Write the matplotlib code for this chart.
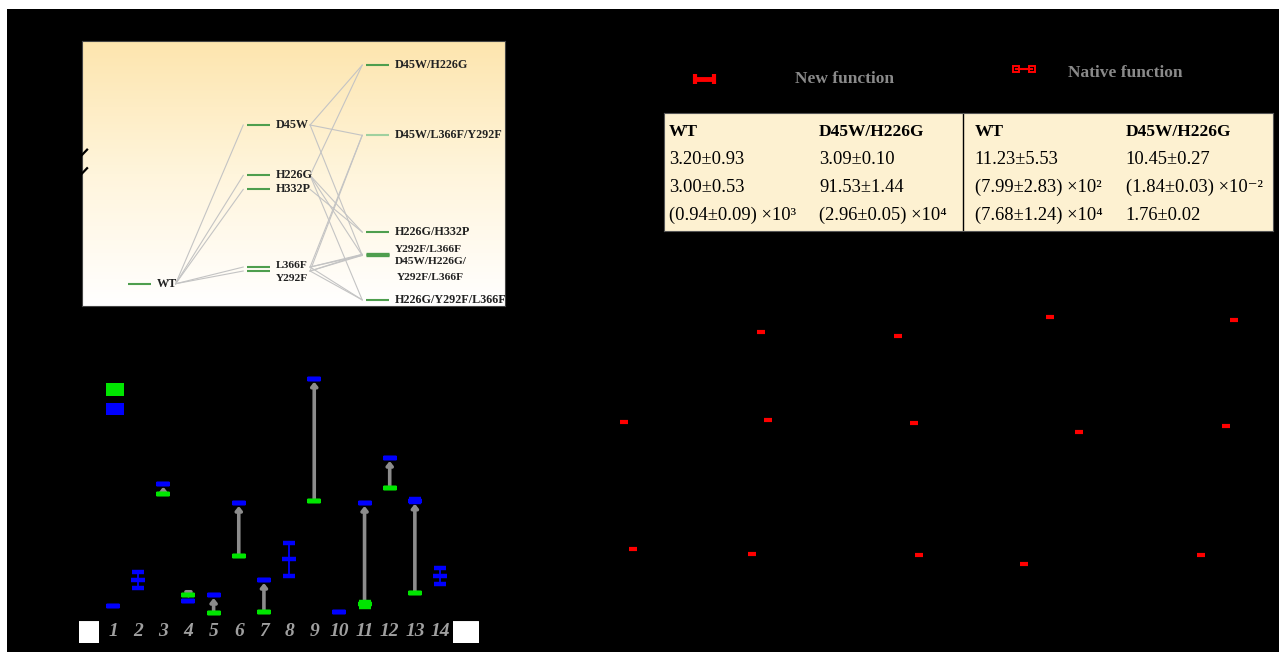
import numpy as np
import matplotlib
matplotlib.use('Agg')
import matplotlib.pyplot as plt
from matplotlib.patches import Rectangle
from matplotlib.colors import LinearSegmentedColormap
import matplotlib.transforms as mtransforms

plt.rcParams['font.family'] = ['Liberation Serif', 'DejaVu Serif']

# ---------------- data ----------------
# mutational network (top-left)
node_names = ['WT', 'D45W', 'H226G', 'H332P', 'L366F', 'Y292F',
              'D45W/H226G', 'D45W/L366F/Y292F', 'H226G/H332P',
              'Y292F/L366F', 'D45W/H226G/\nY292F/L366F', 'H226G/Y292F/L366F']
node_level = [0, 1, 1, 1, 1, 1, 2, 2, 2, 2, 2, 2]
node_value = [0.84, 6.83, 4.93, 4.40, 1.47, 1.32, 9.09, 6.44, 2.79, 1.95, 1.91, 0.23]
edges = [(0, 1), (0, 2), (0, 3), (0, 4), (0, 5),
         (1, 6), (2, 6), (1, 7), (4, 7), (5, 7),
         (2, 8), (3, 8), (4, 9), (5, 9),
         (1, 10), (2, 10), (4, 10), (5, 10),
         (2, 11), (4, 11), (5, 11)]

# activity chart (bottom-left)
positions = list(range(1, 15))
wt_vals = [np.nan, np.nan, 5.03, 1.01, 0.27, 2.55, 0.33, np.nan, 4.77, np.nan, 0.63, 5.29, 1.09, np.nan]
wt_err = [0, 0, 0, 0, 0, 0, 0, 0, 0, 0, 0.09, 0, 0, 0]
mut_vals = [0.57, 1.60, 5.45, 0.77, 1.00, 4.68, 1.60, 2.43, 9.65, 0.33, 4.68, 6.48, 4.77, 1.77]
mut_err = [0, 0.32, 0, 0, 0, 0, 0, 0.65, 0, 0, 0, 0, 0.06, 0.31]
legend_labels = ['WT', 'D45W/H226G']

# kinetic table (top-right)
table_header = ['WT', 'D45W/H226G', 'WT', 'D45W/H226G']
row_labels = ['$K_m$ (mM)', '$k_{cat}$ (s$^{-1}$)', '$k_{cat}/K_m$ (M$^{-1}$s$^{-1}$)']
table_rows = [
    ['3.20±0.93', '3.09±0.10', '11.23±5.53', '10.45±0.27'],
    ['3.00±0.53', '91.53±1.44', '(7.99±2.83) ×10²', '(1.84±0.03) ×10⁻²'],
    ['(0.94±0.09) ×10³', '(2.96±0.05) ×10⁴', '(7.68±1.24) ×10⁴', '1.76±0.02'],
]
func_labels = ['New function', 'Native function']

# red points of the small panels (bottom-right), in percent of the panel area
red_x = [24.4, 45.2, 68.2, 96.1, 3.6, 25.5, 47.5, 72.5, 94.8, 5.0, 23.0, 48.3, 64.2, 91.1]
red_y = [88.5, 87.3, 94.0, 92.9, 56.5, 57.0, 56.2, 52.8, 55.1, 11.2, 9.3, 8.8, 5.8, 8.8]

# ---------------- figure ----------------
W, H = 1279, 652
fig = plt.figure(figsize=(W / 100, H / 100), dpi=100, facecolor='white')
fig.patches.append(Rectangle((7 / W, 0), 1, 1 - 9 / H, transform=fig.transFigure,
                             facecolor='black', edgecolor='none', zorder=-10))


def fax(l, t, r, b):
    return [l / W, 1 - b / H, (r - l) / W, (b - t) / H]


# ---- network panel ----
ax = fig.add_axes(fax(82, 41, 505, 306))
cmap = LinearSegmentedColormap.from_list('bg', ['#ffffff', '#fff5dc', '#fde5ae'])
grad = np.linspace(0, 1, 256).reshape(-1, 1)
ax.imshow(grad, extent=[0, 1, 0, 1], transform=ax.transAxes, aspect='auto',
          cmap=cmap, origin='lower', zorder=0)
ax.set_xlim(-0.487, 3.068)
ax.set_ylim(0, 10)
half = 0.097
start_off = {0: 0.30, 1: 0.43}
for p, c in edges:
    x0 = node_level[p] + start_off[node_level[p]]
    x1 = node_level[c] - half - 0.035
    ax.plot([x0, x1], [node_value[p], node_value[c]], color='#c4c4c4', lw=0.8, zorder=1)
label_off = {4: 2, 5: -7, 9: 5, 10: -14}
label_size = {4: 8.2, 5: 8.2, 9: 8.2, 10: 8.2}
for i, (nm, lv, v) in enumerate(zip(node_names, node_level, node_value)):
    col = '#9fd09f' if i == 7 else '#4e9e4e'
    lw = 2.4 if i in (9, 10) else 1.5
    ax.plot([lv - half, lv + half], [v, v], color=col, lw=lw, solid_capstyle='butt', zorder=2)
    ax.annotate(nm, (lv + 0.14, v), xytext=(0, label_off.get(i, 0)), textcoords='offset pixels',
                ha='left', va='center', fontsize=label_size.get(i, 8.7), fontweight='bold',
                color='#222222', multialignment='center', linespacing=1.9, zorder=3)
ax.set_xticks([])
ax.set_yticks([0, 2, 4, 6, 8, 10])
ax.tick_params(axis='y', colors='black', labelcolor='black', labelsize=8)
for s in ax.spines.values():
    s.set_color('#444444')
    s.set_linewidth(0.8)
# axis break on left spine
for yb in (0.57, 0.50):
    ax.plot([-0.012, 0.012], [yb - 0.02, yb + 0.02], transform=ax.transAxes,
            color='black', lw=1.6, clip_on=False, zorder=5)

# ---- activity chart ----
bx = fig.add_axes(fax(75, 370, 478, 620))
bx.set_facecolor('black')
bx.set_xlim(-0.51, 15.51)
bx.set_ylim(0, 10)
green = '#00e600'
blue = '#0000ff'
for x, g, b in zip(positions, wt_vals, mut_vals):
    if not (np.isnan(g) or np.isnan(b)):
        bx.annotate('', xy=(x, b), xytext=(x, g),
                    arrowprops=dict(arrowstyle='-|>,head_length=0.22,head_width=0.18',
                                    color='#8c8c8c', lw=2.6, shrinkA=0, shrinkB=2.2),
                    zorder=2)
bx.errorbar(positions, wt_vals, yerr=wt_err, fmt='_', color=green, ms=9.5, mew=3.2,
            ecolor=green, capsize=4.5, capthick=2.5, elinewidth=1.2, zorder=3)
bx.errorbar(positions, mut_vals, yerr=mut_err, fmt='_', color=blue, ms=9.5, mew=3.2,
            ecolor=blue, capsize=4.5, capthick=1.8, elinewidth=1.3, zorder=4)
bx.set_xticks(positions)
bx.set_xticklabels([str(p) for p in positions], color='#a0a0a0', fontsize=14,
                   fontweight='bold', fontstyle='italic')
bx.tick_params(axis='x', length=0, pad=2)
bx.tick_params(axis='y', colors='black', labelcolor='black', labelsize=8)
for s in bx.spines.values():
    s.set_color('black')
blend = mtransforms.blended_transform_factory(bx.transData, bx.transAxes)
for xc, wd in zip([0.05, 15.04], [0.8, 1.03]):
    bx.add_patch(Rectangle((xc - wd / 2, -0.092), wd, 0.088, transform=blend,
                           facecolor='white', edgecolor='none', clip_on=False))
for k, (c, lab) in enumerate(zip([green, blue], legend_labels)):
    y0 = 0.897 - k * 0.078
    bx.add_patch(Rectangle((0.076, y0), 0.046, 0.05, transform=bx.transAxes,
                           facecolor=c, edgecolor='none'))
    bx.text(0.14, y0 + 0.025, lab, transform=bx.transAxes, color='black',
            fontsize=10, va='center')

# ---- kinetic table ----
tx = fig.add_axes(fax(664, 113, 1273, 231))
tx.set_facecolor('#fdf1d1')
tx.set_xlim(0, 1)
tx.set_ylim(0, 1)
tx.set_xticks([])
tx.set_yticks([])
for s in tx.spines.values():
    s.set_color('#555555')
    s.set_linewidth(0.8)
tx.axvline(0.491, color='black', lw=1)
col_x = [0.008, 0.2545, 0.51, 0.758]
row_y = [0.843, 0.605, 0.37, 0.129]
for cx, h in zip(col_x, table_header):
    tx.text(cx, row_y[0], h, fontsize=12.5, fontweight='bold', ha='left', va='center')
for r, row in enumerate(table_rows):
    for cx, val in zip(col_x, row):
        tx.text(cx, row_y[r + 1], val, fontsize=13.3, ha='left', va='center')
    tx.text(-0.02, row_y[r + 1], row_labels[r], fontsize=12, ha='right', va='center',
            color='black', transform=tx.transAxes)

# ---- function legend ----
lx = fig.add_axes(fax(660, 55, 1275, 100))
lx.set_xlim(660, 1275)
lx.set_ylim(100, 55)
lx.axis('off')
lx.plot([695, 714], [79, 79], color='red', lw=3.5, solid_capstyle='butt')
lx.plot([695, 714], [79, 79], ls='none', marker='|', ms=7, mew=3, color='red')
lx.plot([1016, 1032], [69, 69], color='red', lw=1.5, marker='s', ms=4.5,
        mfc='none', mec='red', mew=1.4)
lx.text(795, 79, func_labels[0], color='#8a8a8a', fontsize=12.5, fontweight='bold',
        ha='left', va='center')
lx.text(1068, 73, func_labels[1], color='#8a8a8a', fontsize=12.5, fontweight='bold',
        ha='left', va='center')

# ---- red points of small panels ----
rx = fig.add_axes(fax(600, 300, 1260, 580))
rx.set_xlim(0, 100)
rx.set_ylim(0, 100)
rx.axis('off')
rx.plot(red_x, red_y, ls='none', marker='_', ms=6, mew=3, color='red')

fig.savefig('out.png', dpi=100, facecolor=fig.get_facecolor())
